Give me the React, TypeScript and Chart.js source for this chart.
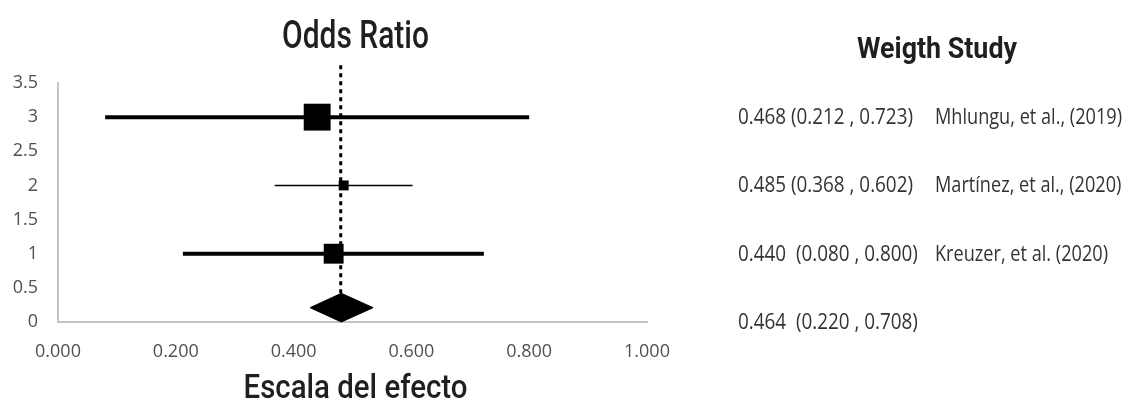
import React, { useEffect, useRef } from "react";
import { Chart, registerables } from "chart.js";

Chart.register(...registerables);

// ---------- DATA ----------
const rowPositions = [3, 2, 1];
const estimates = [0.44, 0.485, 0.468];
const lowerCI = [0.08, 0.368, 0.212];
const upperCI = [0.8, 0.602, 0.723];
const studyWeights = [1.0, 0.37, 0.74];

const summaryEstimate = 0.481;
const summaryLow = 0.428;
const summaryHigh = 0.535;
const summaryRow = 0.21;
const summaryHalfHeight = 0.21;

const referenceX = 0.48;
const referenceFrom = 0.42;
const referenceTo = 3.82;

const xTicks = [0, 0.2, 0.4, 0.6, 0.8, 1.0];
const yTicks = [0, 0.5, 1, 1.5, 2, 2.5, 3, 3.5];

const chartTitle = "Odds Ratio";
const xAxisTitle = "Escala del efecto";
const sideHeader = "Weigth Study";
const sideRows = [3, 2, 1, 0];
const sideStats = [
  "0.468 (0.212 , 0.723)",
  "0.485 (0.368 , 0.602)",
  "0.440  (0.080 , 0.800)",
  "0.464  (0.220 , 0.708)",
];
const sideNames = [
  "Mhlungu, et al., (2019)",
  "Martínez, et al., (2020)",
  "Kreuzer, et al. (2020)",
  "",
];

// ---------- STYLE ----------
const ciLineWidths = [4, 1.5, 4];
const maxMarkerRadius = 19;

function drawFit(
  ctx: CanvasRenderingContext2D,
  text: string,
  x: number,
  y: number,
  font: string,
  sx: number,
  align: CanvasTextAlign,
  baseline: CanvasTextBaseline,
  color: string
) {
  ctx.save();
  ctx.font = font;
  ctx.fillStyle = color;
  ctx.textAlign = align;
  ctx.textBaseline = baseline;
  ctx.translate(x, y);
  ctx.scale(sx, 1);
  ctx.fillText(text, 0, 0);
  ctx.restore();
}

function fitScale(ctx: CanvasRenderingContext2D, text: string, font: string, target: number) {
  ctx.save();
  ctx.font = font;
  const w = ctx.measureText(text).width;
  ctx.restore();
  return w > 0 ? target / w : 1;
}

const textPlugin = {
  id: "forestTexts",
  afterDraw(chart: any) {
    const ctx: CanvasRenderingContext2D = chart.ctx;
    const area = chart.chartArea;
    const ys = chart.scales.y;
    const cx = (area.left + area.right) / 2 + 3;

    const fTitle = "500 39px Roboto";
    drawFit(ctx, chartTitle, cx, 48, fTitle, fitScale(ctx, chartTitle, fTitle, 147), "center", "alphabetic", "#1f1f1f");

    const fAxis = "500 34px Roboto";
    drawFit(ctx, xAxisTitle, cx, 398, fAxis, fitScale(ctx, xAxisTitle, fAxis, 224), "center", "alphabetic", "#1f1f1f");

    const fHead = "bold 29px Roboto";
    drawFit(ctx, sideHeader, 937, 58, fHead, fitScale(ctx, sideHeader, fHead, 160), "center", "alphabetic", "#1f1f1f");

    const fStat = '21px "Open Sans"';
    const sxStat = fitScale(ctx, sideStats[0], fStat, 175);
    const sxName = fitScale(ctx, sideNames[0], fStat, 187);
    sideRows.forEach((row, i) => {
      const py = ys.getPixelForValue(row) + 1;
      drawFit(ctx, sideStats[i], 738, py, fStat, sxStat, "left", "middle", "#333333");
      if (sideNames[i]) {
        drawFit(ctx, sideNames[i], 935, py, fStat, sxName, "left", "middle", "#333333");
      }
    });
  },
};

export default function App() {
  const canvasRef = useRef<HTMLCanvasElement | null>(null);

  useEffect(() => {
    if (!canvasRef.current) return;
    const datasets: any[] = [];

    datasets.push({
      label: "ref",
      data: [
        { x: referenceX, y: referenceFrom },
        { x: referenceX, y: referenceTo },
      ],
      showLine: true,
      borderColor: "#000",
      borderWidth: 3,
      borderDash: [4, 4],
      pointRadius: 0,
      clip: false,
    });

    rowPositions.forEach((row, i) => {
      datasets.push({
        label: "ci" + i,
        data: [
          { x: lowerCI[i], y: row },
          { x: upperCI[i], y: row },
        ],
        showLine: true,
        borderColor: "#000",
        borderWidth: ciLineWidths[i],
        pointRadius: 0,
      });
    });

    datasets.push({
      label: "est",
      data: rowPositions.map((row, i) => ({ x: estimates[i], y: row })),
      pointStyle: "rect",
      pointRadius: studyWeights.map((w) => w * maxMarkerRadius),
      backgroundColor: "#000",
      borderColor: "#000",
      borderWidth: 0,
      showLine: false,
    });

    datasets.push({
      label: "summary",
      data: [
        { x: summaryLow, y: summaryRow },
        { x: summaryEstimate, y: summaryRow + summaryHalfHeight },
        { x: summaryHigh, y: summaryRow },
        { x: summaryEstimate, y: summaryRow - summaryHalfHeight },
        { x: summaryLow, y: summaryRow },
      ],
      showLine: true,
      fill: "shape",
      backgroundColor: "#000",
      borderColor: "#000",
      borderWidth: 1,
      pointRadius: 0,
      tension: 0,
      clip: false,
    });

    const chart = new Chart(canvasRef.current, {
      type: "scatter",
      data: { datasets },
      options: {
        responsive: false,
        animation: false,
        devicePixelRatio: 1,
        layout: { padding: { top: 83, right: 482, bottom: 0, left: 0 } },
        plugins: {
          legend: { display: false },
          tooltip: { enabled: false },
          title: { display: false },
        },
        scales: {
          x: {
            type: "linear",
            min: 0,
            max: 1,
            afterBuildTicks: (scale: any) => {
              scale.ticks = xTicks.map((v) => ({ value: v }));
            },
            afterFit: (scale: any) => {
              scale.height = 78;
            },
            grid: { display: false, drawTicks: false },
            border: { display: true, color: "#c4c4c4", width: 2 },
            ticks: {
              padding: 19,
              color: "#505050",
              font: { family: "Open Sans", size: 18 },
              callback: (v: any) => Number(v).toFixed(3),
            },
          },
          y: {
            type: "linear",
            min: 0,
            max: 3.5,
            afterBuildTicks: (scale: any) => {
              scale.ticks = yTicks.map((v) => ({ value: v }));
            },
            afterFit: (scale: any) => {
              scale.width = 58;
            },
            grid: { display: false, drawTicks: false },
            border: { display: true, color: "#c4c4c4", width: 2 },
            ticks: {
              padding: 20,
              color: "#505050",
              font: { family: "Open Sans", size: 18 },
              callback: (v: any) => String(v),
            },
          },
        },
      },
      plugins: [textPlugin],
    });

    return () => chart.destroy();
  }, []);

  return (
    <div style={{ position: "absolute", left: 0, top: 0, width: 1129, height: 400, background: "#fff" }}>
      <canvas ref={canvasRef} width={1129} height={400} style={{ display: "block" }} />
    </div>
  );
}
